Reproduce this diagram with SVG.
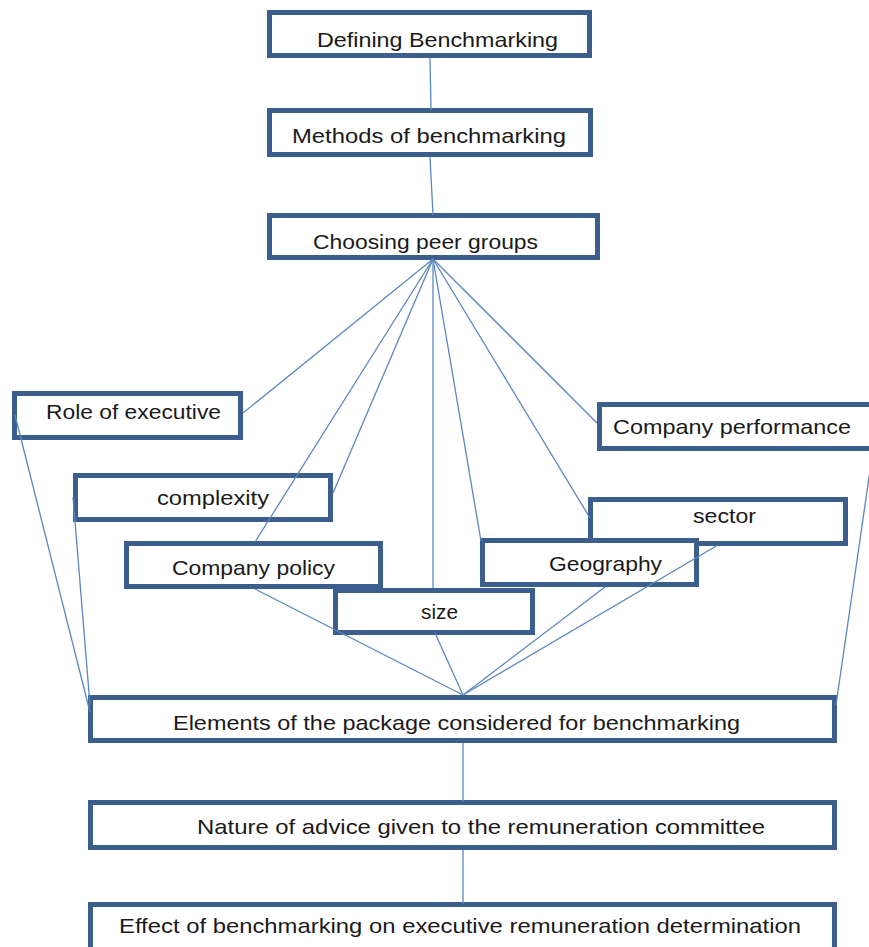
<svg xmlns="http://www.w3.org/2000/svg" width="869" height="947" viewBox="0 0 869 947">
<style>
.box{fill:#ffffff;stroke:#3b5e8c;stroke-width:5}
.lbl{font-family:"Liberation Sans",Arial,sans-serif;font-size:21px;fill:#1a1a1a}
.con line{stroke:#5b87c0;stroke-width:1.3;fill:none}
</style>
<rect width="869" height="947" fill="#ffffff"/>
<g id="n-defining"><rect class="box" x="269.5" y="12.5" width="320" height="43"/><text class="lbl" x="317" y="47" textLength="241" lengthAdjust="spacingAndGlyphs">Defining Benchmarking</text></g>
<g id="n-methods"><rect class="box" x="269.5" y="110.5" width="321" height="44"/><text class="lbl" x="292" y="143" textLength="274" lengthAdjust="spacingAndGlyphs">Methods of benchmarking</text></g>
<g id="n-choosing"><rect class="box" x="269.5" y="215.5" width="328" height="42"/><text class="lbl" x="313" y="249" textLength="225" lengthAdjust="spacingAndGlyphs">Choosing peer groups</text></g>
<g id="n-role"><rect class="box" x="14.5" y="393.5" width="226" height="44"/><text class="lbl" x="46" y="419" textLength="175" lengthAdjust="spacingAndGlyphs">Role of executive</text></g>
<g id="n-perf"><rect class="box" x="599.5" y="404.5" width="280" height="44"/><text class="lbl" x="613" y="434" textLength="238" lengthAdjust="spacingAndGlyphs">Company performance</text></g>
<g id="n-complexity"><rect class="box" x="75.5" y="475.5" width="255" height="44"/><text class="lbl" x="157" y="505" textLength="112" lengthAdjust="spacingAndGlyphs">complexity</text></g>
<g id="n-sector"><rect class="box" x="590.5" y="499.5" width="255" height="44"/><text class="lbl" x="693" y="523" textLength="63" lengthAdjust="spacingAndGlyphs">sector</text></g>
<g id="n-geography"><rect class="box" x="482.5" y="540.5" width="214" height="44"/><text class="lbl" x="549" y="571" textLength="113" lengthAdjust="spacingAndGlyphs">Geography</text></g>
<g id="n-policy"><rect class="box" x="126.5" y="543.5" width="254" height="43"/><text class="lbl" x="172" y="575" textLength="163" lengthAdjust="spacingAndGlyphs">Company policy</text></g>
<g id="n-size"><rect class="box" x="335.5" y="590.5" width="197" height="42"/><text class="lbl" x="421" y="619" textLength="37" lengthAdjust="spacingAndGlyphs">size</text></g>
<g id="n-elements"><rect class="box" x="90.5" y="697.5" width="744" height="43"/><text class="lbl" x="173" y="730" textLength="567" lengthAdjust="spacingAndGlyphs">Elements of the package considered for benchmarking</text></g>
<g id="n-nature"><rect class="box" x="90.5" y="802.5" width="744" height="45"/><text class="lbl" x="197" y="834" textLength="568" lengthAdjust="spacingAndGlyphs">Nature of advice given to the remuneration committee</text></g>
<g id="n-effect"><rect class="box" x="90.5" y="904.5" width="744" height="50"/><text class="lbl" x="119" y="933" textLength="682" lengthAdjust="spacingAndGlyphs">Effect of benchmarking on executive remuneration determination</text></g>
<g id="connectors" class="con">
<line x1="430" y1="58" x2="431" y2="110"/>
<line x1="430" y1="157" x2="433" y2="215"/>
<line x1="433" y1="259" x2="243" y2="413"/>
<line x1="433" y1="259" x2="333" y2="493"/>
<line x1="433" y1="259" x2="255" y2="542"/>
<line x1="433" y1="259" x2="433" y2="588"/>
<line x1="433" y1="259" x2="481" y2="541"/>
<line x1="433" y1="259" x2="590" y2="518"/>
<line x1="433" y1="259" x2="597" y2="423"/>
<line x1="255" y1="589" x2="463" y2="695"/>
<line x1="435" y1="633" x2="463" y2="695"/>
<line x1="605" y1="587" x2="463" y2="695"/>
<line x1="718" y1="545" x2="463" y2="695"/>
<line x1="15" y1="415" x2="90" y2="712"/>
<line x1="73" y1="497" x2="90" y2="705"/>
<line x1="873" y1="450" x2="836" y2="705"/>
<line x1="463" y1="743" x2="463" y2="802"/>
<line x1="463" y1="850" x2="463" y2="904"/>
</g>
</svg>
